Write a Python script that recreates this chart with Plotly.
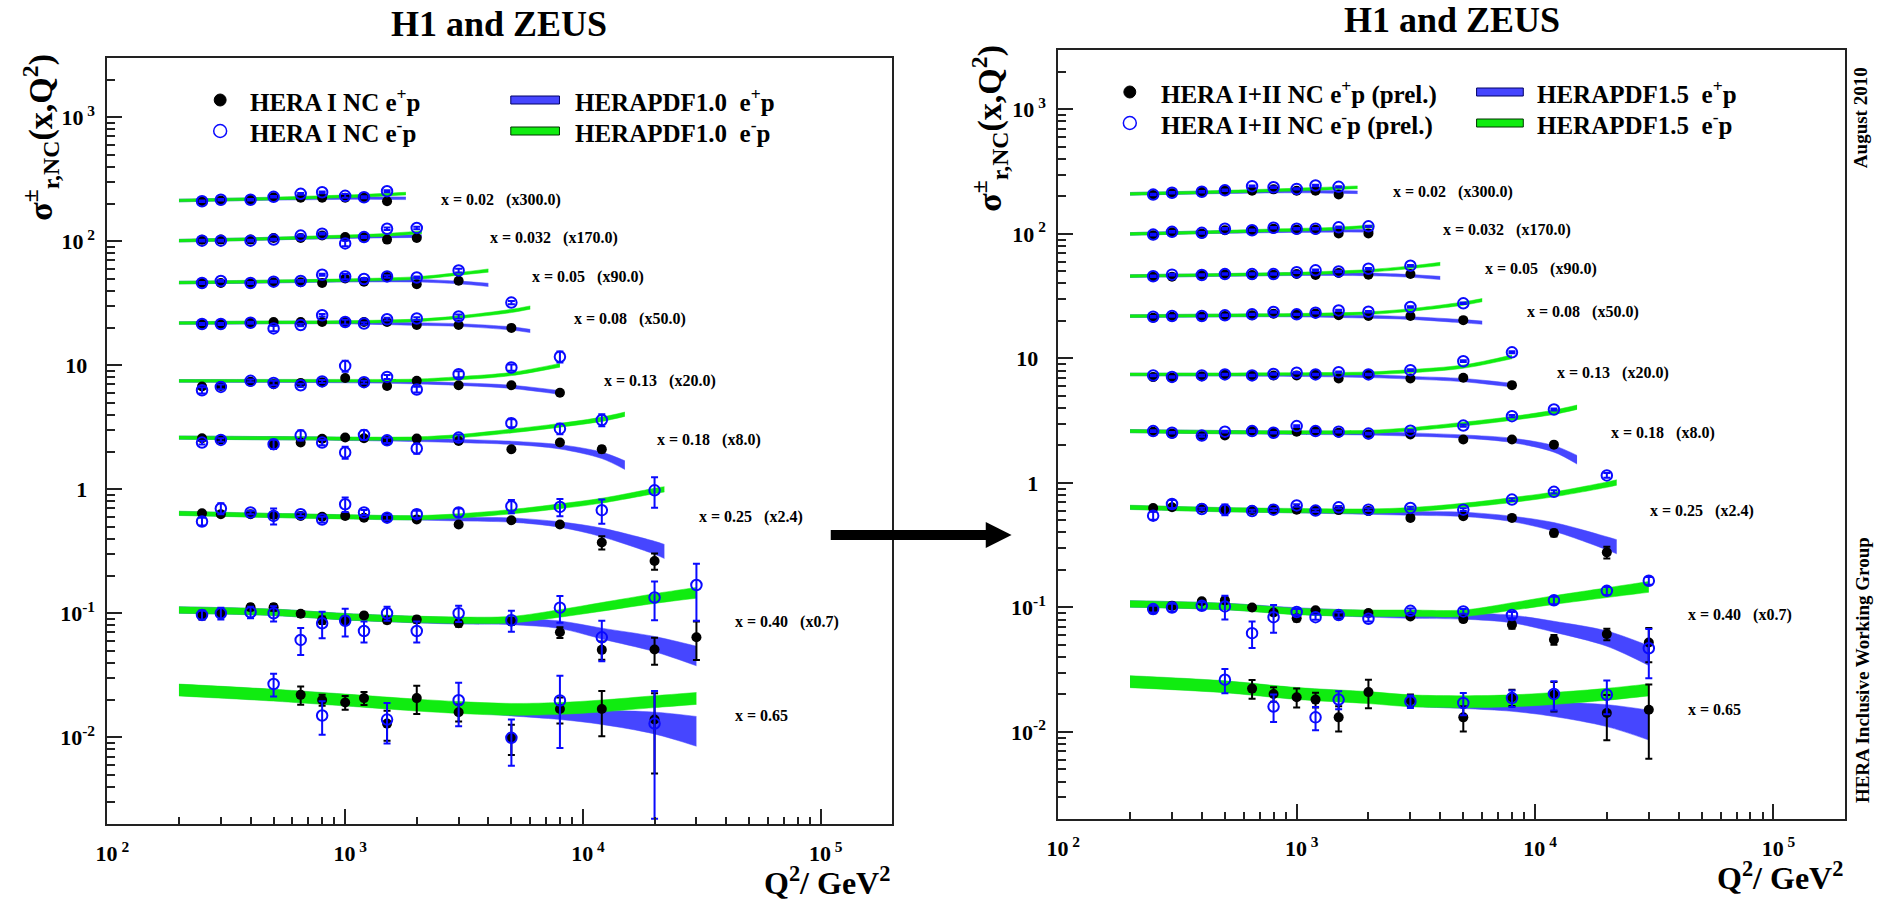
import math
import plotly.graph_objects as go

W, H = 1880, 903
FONT = "Liberation Serif"

# ---------------- data (plotted values, already multiplied by the bin factors) -------------
BINS = ["0.02", "0.032", "0.05", "0.08", "0.13", "0.18", "0.25", "0.40", "0.65"]
FACTORS = ["300.0", "170.0", "90.0", "50.0", "20.0", "8.0", "2.4", "0.7", ""]

Q_A = [250, 300, 400, 500, 650, 800, 1000, 1200, 1500]
Q_B = [250, 300, 400, 500, 650, 800, 1000, 1200, 1500, 2000]
Q_C = [250, 300, 400, 500, 650, 800, 1000, 1200, 1500, 2000, 3000]
Q_D = [250, 300, 400, 500, 650, 800, 1000, 1200, 1500, 2000, 3000, 5000]
Q_E = [250, 300, 400, 500, 650, 800, 1000, 1200, 1500, 2000, 3000, 5000, 8000]
Q_F = [250, 300, 500, 650, 800, 1000, 1200, 1500, 2000, 3000, 5000, 8000, 12000]
Q_F2 = [250, 300, 400, 500, 650, 800, 1000, 1200, 1500, 2000, 3000, 5000, 8000, 12000]
Q_G = [250, 300, 400, 500, 650, 800, 1000, 1200, 1500, 2000, 3000, 5000, 8000, 12000, 20000]
Q_H = [250, 300, 400, 500, 650, 800, 1000, 1200, 1500, 2000, 3000, 5000, 8000, 12000, 20000, 30000]
Q_H2 = [250, 300, 400, 500, 650, 800, 1000, 1200, 1500, 2000, 3000, 5000, 8000, 12000, 20000, 30000, 30000]

# ---- left panel: HERA I ----
L_POS_Q = [Q_A, Q_B, Q_C, Q_D, Q_E, Q_F, Q_G, Q_H,
           [650, 800, 1000, 1200, 1500, 2000, 3000, 5000, 8000, 12000, 20000]]
L_POS_V = [
    [210, 213, 216, 226, 224, 224, 224, 224, 210],
    [102.5, 103, 103, 106, 106, 111, 108, 108, 103, 106],
    [46, 46, 45.8, 46.7, 46.7, 46, 50, 47.2, 51.4, 45, 48],
    [21.5, 21.5, 22, 22.3, 22.3, 22.3, 22.3, 22.3, 22.3, 21.1, 21.1, 20.0],
    [6.73, 6.8, 7.35, 7.03, 7.2, 7.3, 7.9, 7.2, 6.8, 7.48, 6.9, 6.9, 6.0],
    [2.58, 2.52, 2.31, 2.38, 2.55, 2.61, 2.58, 2.45, 2.56, 2.45, 2.1, 2.38, 2.1],
    [0.64, 0.63, 0.63, 0.62, 0.61, 0.60, 0.61, 0.59, 0.59, 0.57, 0.52, 0.563, 0.52, 0.372, 0.264],
    [0.097, 0.1, 0.112, 0.112, 0.099, 0.088, 0.088, 0.096, 0.088, 0.089, 0.083, 0.086, 0.0703, 0.0507, 0.051, 0.064],
    [0.022, 0.020, 0.0191, 0.0207, 0.0129, 0.0207, 0.0159, 0.0099, 0.0169, 0.0169, 0.0139],
]
L_POS_E = [
    [3, 3, 3, 3, 3, 3, 3, 3, 3],
    [1.5, 1.5, 1.5, 1.5, 1.5, 1.5, 1.5, 1.5, 1.5, 1.5],
    [0.8, 0.8, 0.8, 0.8, 0.8, 0.8, 0.8, 0.8, 0.8, 0.8, 0.8],
    [0.4, 0.4, 0.4, 0.6, 0.4, 0.4, 0.6, 0.4, 0.4, 0.4, 0.4, 0.4],
    [0.25, 0.25, 0.25, 0.25, 0.2, 0.2, 0.25, 0.2, 0.2, 0.2, 0.2, 0.2, 0.2],
    [0.08, 0.08, 0.15, 0.1, 0.08, 0.08, 0.1, 0.1, 0.08, 0.08, 0.06, 0.08, 0.12],
    [0.02, 0.02, 0.02, 0.03, 0.02, 0.02, 0.02, 0.02, 0.02, 0.02, 0.02, 0.02, 0.02, 0.045, 0.04],
    [0.008, 0.007, 0.006, 0.007, 0.005, 0.006, 0.006, 0.005, 0.005, 0.005, 0.005, 0.005, 0.007, 0.0085, 0.0125, 0.022],
    [0.0037, 0.002, 0.0024, 0.0025, 0.0035, 0.0053, 0.0025, 0.0027, 0.004, 0.0067, 0.0088],
]
L_NEG_Q = [Q_A, Q_B, Q_C, Q_D, Q_E, Q_F, Q_G, Q_H,
           [500, 800, 1500, 3000, 5000, 8000, 20000]]
L_NEG_V = [
    [210, 216, 216, 228, 241, 248, 232, 226, 253],
    [101, 101, 101, 103, 111, 115, 96, 108, 126, 128],
    [46, 47.8, 46, 47.2, 47.8, 53.6, 51.9, 49.6, 52, 51, 58],
    [21.5, 21.5, 22, 19.8, 21.1, 25.3, 22.3, 21.7, 23.5, 23.8, 24.7, 32],
    [6.28, 6.69, 7.48, 7.2, 6.9, 7.4, 9.88, 7.3, 8.05, 6.37, 8.46, 9.58, 11.7],
    [2.38, 2.5, 2.31, 2.72, 2.38, 1.98, 2.74, 2.48, 2.13, 2.61, 3.41, 3.08, 3.62],
    [0.55, 0.70, 0.65, 0.61, 0.63, 0.57, 0.757, 0.65, 0.59, 0.63, 0.65, 0.73, 0.72, 0.678, 0.98],
    [0.097, 0.1, 0.102, 0.1, 0.061, 0.083, 0.087, 0.072, 0.1, 0.072, 0.1, 0.088, 0.111, 0.064, 0.134, 0.169],
    [0.0269, 0.015, 0.0139, 0.0199, 0.0099, 0.0198, 0.0129],
]
L_NEG_E = [
    [3, 3, 3, 3, 4, 4, 8, 4, 5],
    [1.5, 1.5, 1.5, 1.5, 2, 2, 5, 2, 3, 3],
    [0.8, 0.8, 0.8, 0.8, 0.8, 1, 2.5, 1, 1.2, 1, 2],
    [0.4, 0.4, 0.4, 1, 0.5, 0.6, 1, 0.5, 0.6, 0.6, 1, 1],
    [0.35, 0.3, 0.2, 0.3, 0.2, 0.2, 1.0, 0.2, 0.3, 0.35, 0.5, 0.55, 1.2],
    [0.08, 0.08, 0.2, 0.25, 0.12, 0.22, 0.25, 0.12, 0.2, 0.15, 0.25, 0.3, 0.4],
    [0.04, 0.07, 0.02, 0.09, 0.02, 0.03, 0.1, 0.03, 0.03, 0.04, 0.05, 0.09, 0.115, 0.15, 0.27],
    [0.008, 0.011, 0.011, 0.014, 0.015, 0.02, 0.022, 0.014, 0.013, 0.014, 0.015, 0.017, 0.027, 0.023, 0.046, 0.082],
    [0.0056, 0.0045, 0.005, 0.0076, 0.004, 0.0116, 0.0107],
]

# ---- right panel: HERA I+II ----
R_POS_Q = [Q_A, Q_B, Q_C, Q_D, Q_E, Q_F2, Q_G, Q_H,
           [650, 800, 1000, 1200, 1500, 2000, 3000, 5000, 8000, 12000, 20000, 30000]]
R_POS_V = [
    [205, 212, 218, 224, 222, 228, 222, 222, 207],
    [97.5, 103, 100.6, 107, 106, 110, 108, 108, 101, 101],
    [45.3, 45.3, 46.8, 47.5, 46.8, 47, 47.6, 46.8, 48.5, 47, 47.6],
    [21.2, 21.6, 21.7, 21.9, 22.2, 22.9, 22.6, 23.0, 22.2, 21.9, 21.9, 20.3],
    [7.08, 7.0, 7.2, 7.44, 7.3, 7.3, 7.3, 7.44, 6.9, 7.44, 6.9, 7.0, 6.1],
    [2.58, 2.49, 2.37, 2.41, 2.61, 2.53, 2.58, 2.61, 2.53, 2.45, 2.45, 2.23, 2.23, 2.03],
    [0.63, 0.637, 0.63, 0.61, 0.605, 0.61, 0.61, 0.60, 0.605, 0.594, 0.524, 0.54, 0.524, 0.396, 0.277],
    [0.0958, 0.103, 0.112, 0.114, 0.1, 0.091, 0.082, 0.095, 0.086, 0.0902, 0.0847, 0.0806, 0.0726, 0.0551, 0.0611, 0.0523],
    [0.0223, 0.0202, 0.019, 0.0182, 0.0131, 0.0209, 0.018, 0.0131, 0.019, 0.0199, 0.0142, 0.0151],
]
R_POS_E = [
    [3, 3, 3, 3, 3, 3, 3, 3, 3],
    [1.5, 1.5, 1.5, 1.5, 1.5, 1.5, 1.5, 1.5, 1.5, 1.5],
    [0.7, 0.7, 0.7, 0.7, 0.7, 0.7, 0.7, 0.7, 0.7, 0.7, 0.7],
    [0.3, 0.3, 0.3, 0.3, 0.3, 0.3, 0.3, 0.3, 0.3, 0.3, 0.3, 0.3],
    [0.1, 0.1, 0.1, 0.1, 0.1, 0.1, 0.1, 0.1, 0.1, 0.1, 0.1, 0.1, 0.1],
    [0.04, 0.04, 0.05, 0.04, 0.04, 0.04, 0.04, 0.04, 0.04, 0.04, 0.04, 0.04, 0.04, 0.05],
    [0.012, 0.012, 0.012, 0.012, 0.012, 0.012, 0.012, 0.012, 0.012, 0.012, 0.012, 0.012, 0.012, 0.025, 0.03],
    [0.006, 0.006, 0.005, 0.006, 0.003, 0.004, 0.005, 0.004, 0.004, 0.004, 0.004, 0.004, 0.005, 0.005, 0.0065, 0.016],
    [0.0038, 0.0027, 0.0033, 0.0025, 0.003, 0.0054, 0.002, 0.003, 0.0028, 0.0053, 0.0056, 0.009],
]
R_NEG_Q = [Q_A, Q_B, Q_C, Q_D, Q_E, Q_F2, Q_G, Q_H2,
           [500, 800, 1200, 1500, 3000, 5000, 8000, 12000, 20000]]
R_NEG_V = [
    [207, 214, 218, 224, 242, 237, 230, 245, 239],
    [98.8, 104, 102, 110, 107, 112, 110, 110, 113, 115],
    [45.7, 47.1, 46.8, 47.6, 47.6, 47.6, 49.2, 51, 50, 52.5, 55.6],
    [21.6, 21.9, 21.9, 22.2, 22.6, 23.6, 22.6, 23.3, 24.3, 23.7, 25.9, 27.7],
    [7.3, 7.1, 7.3, 7.44, 7.3, 7.5, 7.67, 7.44, 7.76, 7.44, 8.05, 9.5, 11.2],
    [2.61, 2.53, 2.4, 2.58, 2.61, 2.53, 2.86, 2.61, 2.58, 2.49, 2.63, 2.89, 3.44, 3.89],
    [0.546, 0.678, 0.618, 0.61, 0.594, 0.61, 0.66, 0.6, 0.637, 0.61, 0.63, 0.61, 0.735, 0.848, 1.15],
    [0.097, 0.1, 0.103, 0.102, 0.0622, 0.0836, 0.092, 0.0836, 0.087, 0.081, 0.094, 0.093, 0.087, 0.114, 0.136, 0.164, 0.047],
    [0.0263, 0.016, 0.0131, 0.0182, 0.0176, 0.0171, 0.0187, 0.0202, 0.0199],
]
R_NEG_E = [
    [3, 3, 3, 3, 3, 3, 3, 3, 3],
    [1.5, 1.5, 1.5, 1.5, 1.5, 1.5, 1.5, 1.5, 1.5, 1.5],
    [0.7, 0.7, 0.7, 0.7, 0.7, 0.7, 0.7, 0.7, 0.7, 0.7, 0.8],
    [0.3, 0.3, 0.3, 0.3, 0.3, 0.3, 0.3, 0.3, 0.3, 0.3, 0.4, 0.4],
    [0.1, 0.1, 0.1, 0.1, 0.1, 0.1, 0.1, 0.1, 0.1, 0.1, 0.12, 0.15, 0.2],
    [0.04, 0.04, 0.05, 0.04, 0.04, 0.04, 0.05, 0.04, 0.04, 0.04, 0.05, 0.06, 0.07, 0.08],
    [0.04, 0.05, 0.015, 0.06, 0.015, 0.015, 0.015, 0.015, 0.015, 0.015, 0.015, 0.015, 0.02, 0.025, 0.05],
    [0.006, 0.007, 0.007, 0.022, 0.015, 0.021, 0.005, 0.004, 0.004, 0.004, 0.004, 0.004, 0.005, 0.008, 0.01, 0.012, 0.02],
    [0.0058, 0.004, 0.0028, 0.003, 0.002, 0.0035, 0.0028, 0.0053, 0.006],
]

# ---- HERAPDF bands: knots, central values and relative half-widths ----
BAND_Q = [
    [200, 400, 800, 1200, 1800],
    [200, 400, 800, 1400, 2100],
    [200, 500, 1000, 2000, 3000, 4000],
    [200, 500, 1000, 2000, 3000, 5000, 6000],
    [200, 500, 1000, 2000, 3000, 5000, 8000],
    [200, 500, 1000, 2000, 3000, 5000, 8000, 12000, 15000],
    [200, 500, 1000, 2000, 3000, 5000, 8000, 12000, 20000, 22000],
    [200, 500, 1000, 2000, 3000, 5000, 8000, 12000, 20000, 30000],
    [200, 500, 1000, 2000, 3000, 5000, 8000, 12000, 20000, 30000],
]
L_BPOS = [
    [213, 218, 222, 223, 222],
    [101, 104, 107, 109, 110],
    [46.4, 47.2, 48, 48, 46.5, 44.5],
    [21.9, 22.1, 22.1, 21.5, 21.1, 19.8, 18.9],
    [7.48, 7.45, 7.4, 7.25, 7.05, 6.7, 6.03],
    [2.61, 2.58, 2.55, 2.5, 2.45, 2.37, 2.2, 1.88, 1.57],
    [0.64, 0.615, 0.60, 0.585, 0.575, 0.565, 0.52, 0.45, 0.34, 0.318],
    [0.1064, 0.102, 0.094, 0.089, 0.087, 0.086, 0.081, 0.069, 0.057, 0.046],
    [0.0242, 0.0220, 0.0201, 0.0182, 0.0172, 0.0160, 0.0153, 0.0146, 0.0133, 0.0116],
]
L_BNEG = [
    [213, 219, 227, 233, 242],
    [101, 104, 108, 112, 118],
    [46.4, 47.5, 48.5, 50.5, 54.5, 58],
    [21.9, 22.2, 22.3, 23.0, 24.4, 27.4, 29.2],
    [7.48, 7.5, 7.5, 7.55, 7.85, 8.5, 10.0],
    [2.61, 2.58, 2.56, 2.57, 2.68, 2.95, 3.28, 3.67, 4.03],
    [0.64, 0.615, 0.60, 0.59, 0.61, 0.66, 0.73, 0.81, 0.97, 1.0],
    [0.1064, 0.102, 0.094, 0.0895, 0.088, 0.089, 0.10, 0.113, 0.132, 0.147],
    [0.0242, 0.0220, 0.0201, 0.0183, 0.0175, 0.0169, 0.0172, 0.018, 0.0195, 0.0207],
]
R_BPOS = [
    [210, 215, 219, 219, 216],
    [100, 103, 105, 106, 106],
    [45.9, 46.8, 47.5, 47.3, 46, 44.3],
    [21.9, 22.1, 22.1, 21.6, 21.1, 19.9, 19.4],
    [7.44, 7.4, 7.35, 7.2, 7.0, 6.7, 6.1],
    [2.61, 2.56, 2.53, 2.5, 2.45, 2.36, 2.2, 1.88, 1.54],
    [0.637, 0.61, 0.595, 0.58, 0.57, 0.56, 0.515, 0.445, 0.33, 0.31],
    [0.107, 0.102, 0.094, 0.089, 0.087, 0.0857, 0.081, 0.0704, 0.0568, 0.0417],
    [0.0255, 0.0232, 0.0205, 0.019, 0.0173, 0.0166, 0.0161, 0.0153, 0.0138, 0.0118],
]
R_BNEG = [
    [210, 216, 224, 230, 237],
    [100, 103, 107, 110, 115],
    [45.9, 47, 48, 50.5, 54, 57.4],
    [21.9, 22.2, 22.4, 23.1, 24.5, 27.6, 29.4],
    [7.44, 7.45, 7.5, 7.6, 7.9, 8.6, 10.3],
    [2.61, 2.56, 2.55, 2.57, 2.7, 2.97, 3.3, 3.7, 4.06],
    [0.637, 0.61, 0.6, 0.595, 0.61, 0.66, 0.73, 0.81, 0.97, 1.01],
    [0.107, 0.102, 0.093, 0.09, 0.09, 0.09, 0.102, 0.115, 0.132, 0.147],
    [0.0255, 0.0232, 0.0205, 0.019, 0.0179, 0.0176, 0.0179, 0.0187, 0.0202, 0.0219],
]
BPOS_W = [
    [0.025, 0.025, 0.025, 0.025, 0.025],
    [0.025, 0.025, 0.025, 0.025, 0.025],
    [0.025, 0.025, 0.025, 0.025, 0.025, 0.03],
    [0.025, 0.025, 0.025, 0.025, 0.025, 0.03, 0.03],
    [0.025, 0.025, 0.025, 0.025, 0.025, 0.03, 0.035],
    [0.03, 0.03, 0.03, 0.03, 0.03, 0.03, 0.04, 0.06, 0.08],
    [0.035, 0.035, 0.035, 0.035, 0.035, 0.04, 0.05, 0.08, 0.12, 0.13],
    [0.06, 0.06, 0.06, 0.06, 0.06, 0.06, 0.07, 0.1, 0.14, 0.18],
    [0.1, 0.1, 0.1, 0.09, 0.07, 0.07, 0.09, 0.13, 0.2, 0.27],
]
BNEG_W = [
    [0.025, 0.025, 0.025, 0.025, 0.025],
    [0.025, 0.025, 0.025, 0.025, 0.025],
    [0.025, 0.025, 0.025, 0.025, 0.025, 0.03],
    [0.025, 0.025, 0.025, 0.025, 0.025, 0.03, 0.03],
    [0.025, 0.025, 0.025, 0.025, 0.03, 0.03, 0.035],
    [0.03, 0.03, 0.03, 0.03, 0.03, 0.035, 0.035, 0.04, 0.04],
    [0.04, 0.04, 0.04, 0.04, 0.04, 0.04, 0.045, 0.045, 0.05, 0.05],
    [0.06, 0.06, 0.06, 0.06, 0.06, 0.06, 0.07, 0.08, 0.09, 0.1],
    [0.11, 0.11, 0.11, 0.11, 0.11, 0.11, 0.11, 0.11, 0.11, 0.11],
]

Y_TICKVALS = [0.01, 0.1, 1, 10, 100, 1000]
PAD = "<span style='color:rgba(0,0,0,0)'>0</span>"
Y_TICKTEXT = ["10<sup>-2</sup>", "10<sup>-1</sup>", "1<sup>" + PAD + "</sup>", "10<sup>" + PAD + "</sup>",
              "10<sup> 2</sup>", "10<sup> 3</sup>"]
X_TICKVALS = [100, 1000, 10000, 100000]
X_TICKTEXT = ["10<sup> 2</sup>", "10<sup> 3</sup>", "10<sup> 4</sup>", "10<sup> 5</sup>"]

# ---------------- styling ----------------
C_BLUEBAND = "#4646ff"
C_GREENBAND = "#10ec10"
C_BLUEPT = "#0a0aff"


def px(x):
    return x / W


def py(y):
    return 1 - y / H


fig = go.Figure()


def add_band(q, c, w, color, xa, ya):
    lo = [ci * (1 - wi) for ci, wi in zip(c, w)]
    hi = [ci * (1 + wi) for ci, wi in zip(c, w)]
    fig.add_trace(go.Scatter(x=q, y=lo, mode="lines", xaxis=xa, yaxis=ya,
                             line=dict(width=0.5, color=color, shape="spline", smoothing=0.9),
                             hoverinfo="skip", showlegend=False))
    fig.add_trace(go.Scatter(x=q, y=hi, mode="lines", xaxis=xa, yaxis=ya, fill="tonexty",
                             fillcolor=color,
                             line=dict(width=0.5, color=color, shape="spline", smoothing=0.9),
                             hoverinfo="skip", showlegend=False))


def add_panel(xa, ya, bpos, bneg, pq, pv, pe, nq, nv, ne):
    for i in range(len(BINS)):
        add_band(BAND_Q[i], bpos[i], BPOS_W[i], C_BLUEBAND, xa, ya)
    for i in range(len(BINS)):
        add_band(BAND_Q[i], bneg[i], BNEG_W[i], C_GREENBAND, xa, ya)
    for i in range(len(BINS)):
        fig.add_trace(go.Scatter(
            x=pq[i], y=pv[i], mode="markers", xaxis=xa, yaxis=ya, showlegend=False,
            marker=dict(symbol="circle", size=10, color="black"),
            error_y=dict(type="data", array=pe[i], color="black", thickness=2, width=3.5)))
    for i in range(len(BINS)):
        fig.add_trace(go.Scatter(
            x=nq[i], y=nv[i], mode="markers", xaxis=xa, yaxis=ya, showlegend=False,
            marker=dict(symbol="circle-open", size=10.5, color=C_BLUEPT, line=dict(width=2, color=C_BLUEPT)),
            error_y=dict(type="data", array=ne[i], color=C_BLUEPT, thickness=2, width=3.5)))


add_panel("x", "y", L_BPOS, L_BNEG, L_POS_Q, L_POS_V, L_POS_E, L_NEG_Q, L_NEG_V, L_NEG_E)
add_panel("x2", "y2", R_BPOS, R_BNEG, R_POS_Q, R_POS_V, R_POS_E, R_NEG_Q, R_NEG_V, R_NEG_E)

MINOR_X = [m * 10 ** e for e in range(2, 6) for m in range(2, 10)]
MINOR_Y = [m * 10 ** e for e in range(-3, 4) for m in range(2, 10)]

axis_common = dict(type="log", showline=True, mirror=True, linecolor="#222", linewidth=2,
                   ticks="inside", tickcolor="#222", tickwidth=1.5, ticklen=15,
                   showgrid=False, zeroline=False, tickmode="array",
                   tickfont=dict(family=FONT, size=22, color="black", weight="bold"))

xr = [2, math.log10(2e5)]
yr = [math.log10(0.002), math.log10(3000)]

xminor = dict(ticks="inside", ticklen=7, tickwidth=1.5, tickcolor="#222", tickmode="array", tickvals=MINOR_X)
yminor = dict(ticks="inside", ticklen=8, tickwidth=1.5, tickcolor="#222", tickmode="array", tickvals=MINOR_Y)

fig.update_layout(
    width=W, height=H, margin=dict(l=0, r=0, t=0, b=0),
    paper_bgcolor="white", plot_bgcolor="white", showlegend=False,
    xaxis=dict(axis_common, domain=[px(96), px(886)], range=xr, anchor="y",
               tickvals=X_TICKVALS, ticktext=X_TICKTEXT, ticklabelstandoff=9, ticklabelshift=5,
               minor=xminor),
    yaxis=dict(axis_common, domain=[py(824), py(58)], range=yr, anchor="x",
               tickvals=Y_TICKVALS, ticktext=Y_TICKTEXT, ticklabelstandoff=6, minor=yminor),
    xaxis2=dict(axis_common, domain=[px(1053), px(1845)], range=xr, anchor="y2",
                tickvals=X_TICKVALS, ticktext=X_TICKTEXT, ticklabelstandoff=9, ticklabelshift=5,
                minor=xminor),
    yaxis2=dict(axis_common, domain=[py(819), py(50)], range=yr, anchor="x2",
                tickvals=Y_TICKVALS, ticktext=Y_TICKTEXT, ticklabelstandoff=6, minor=yminor),
)

ann = []


def text(x, y, s, size, bold=False, xanchor="left", yanchor="middle", angle=0):
    ann.append(dict(x=px(x), y=py(y), xref="paper", yref="paper", text=s, showarrow=False,
                    xanchor=xanchor, yanchor=yanchor, textangle=angle,
                    font=dict(family=FONT, size=size, color="black", weight="bold" if bold else "normal")))


# titles
text(490, 24, "H1 and ZEUS", 36, True, "center")
text(1449, 20, "H1 and ZEUS", 36, True, "center")
# axis titles
text(886, 881, "Q<sup>2</sup>/ GeV<sup>2</sup>", 32, True, "right")
text(1845, 876, "Q<sup>2</sup>/ GeV<sup>2</sup>", 32, True, "right")
YT = "σ<sup>±</sup><sub>r,NC</sub>(x,Q<sup>2</sup>)"
text(28, 137, YT, 34, True, "center", "middle", -90)
text(984, 128, YT, 34, True, "center", "middle", -90)
# side notes
text(1860, 118, "August 2010", 19, True, "center", "middle", -90)
text(1862, 670, "HERA Inclusive Working Group", 19, True, "center", "middle", -90)

# bin labels
L_LAB = [(430, 200), (479, 238), (521, 277), (564, 319), (594, 381), (647, 440), (689, 517), (726, 622), (726, 715)]
R_LAB = [(1388, 192), (1438, 230), (1480, 269), (1523, 312), (1553, 373), (1607, 433), (1647, 511), (1685, 615), (1685, 709)]
for i, b in enumerate(BINS):
    s = "x = " + b
    if FACTORS[i]:
        s += "&nbsp;&nbsp;&nbsp;(x" + FACTORS[i] + ")"
    text(L_LAB[i][0], L_LAB[i][1], s, 16, True)
    text(R_LAB[i][0], R_LAB[i][1], s, 16, True)

# legends
text(238, 100, "HERA I NC e<sup>+</sup>p", 25, True)
text(238, 131, "HERA I NC e<sup>-</sup>p", 25, True)
text(565, 100, "HERAPDF1.0&nbsp;&nbsp;e<sup>+</sup>p", 25, True)
text(565, 131, "HERAPDF1.0&nbsp;&nbsp;e<sup>-</sup>p", 25, True)
text(1154, 92, "HERA I+II NC e<sup>+</sup>p (prel.)", 25, True)
text(1154, 123, "HERA I+II NC e<sup>-</sup>p (prel.)", 25, True)
text(1533, 92, "HERAPDF1.5&nbsp;&nbsp;e<sup>+</sup>p", 25, True)
text(1533, 123, "HERAPDF1.5&nbsp;&nbsp;e<sup>-</sup>p", 25, True)

shapes = []


def circ(cx, cy, r, fill, line, lw):
    shapes.append(dict(type="circle", xref="paper", yref="paper",
                       x0=px(cx - r), x1=px(cx + r), y0=py(cy + r), y1=py(cy - r),
                       fillcolor=fill, line=dict(color=line, width=lw)))


def rect(x0, y0, x1, y1, fill, line="black", lw=1):
    shapes.append(dict(type="rect", xref="paper", yref="paper",
                       x0=px(x0), x1=px(x1), y0=py(y1), y1=py(y0),
                       fillcolor=fill, line=dict(color=line, width=lw)))


circ(209.5, 100, 6, "black", "black", 1)
circ(209.5, 131, 6.5, "rgba(0,0,0,0)", C_BLUEPT, 1.5)
rect(502, 96, 551, 104, C_BLUEBAND, "#000066")
rect(502, 127, 551, 135, C_GREENBAND, "#003300")
circ(1125, 92, 6, "black", "black", 1)
circ(1125, 123, 6.5, "rgba(0,0,0,0)", C_BLUEPT, 1.5)
rect(1474, 88, 1521, 96, C_BLUEBAND, "#000066")
rect(1474, 119, 1521, 127, C_GREENBAND, "#003300")

# arrow between the panels
rect(824, 530, 983, 540, "black", "black", 0)
shapes.append(dict(type="path", xref="paper", yref="paper",
                   path="M {} {} L {} {} L {} {} Z".format(px(980), py(522), px(1006), py(535), px(980), py(548)),
                   fillcolor="black", line=dict(color="black", width=0)))

fig.update_layout(annotations=ann, shapes=shapes)

fig.write_html("out.html", config={"displayModeBar": False},
               post_script="document.body.style.margin='0';")
